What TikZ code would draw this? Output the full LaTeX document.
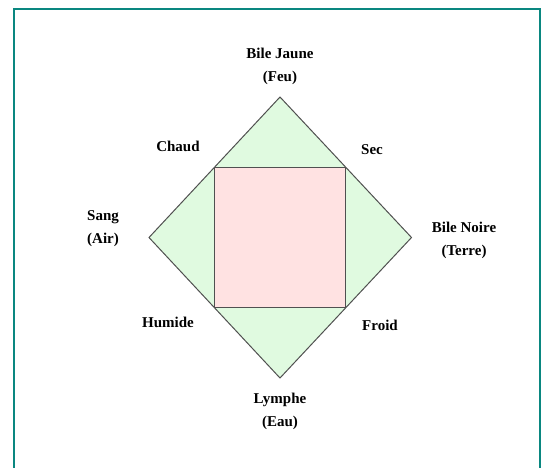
\documentclass[tikz,border=0pt]{standalone}
\usepackage{fontspec}
\setmainfont{Liberation Serif}
\usetikzlibrary{calc}
\definecolor{frameteal}{RGB}{10,135,128}
\definecolor{lgreen}{RGB}{224,250,224}
\definecolor{lpink}{RGB}{255,226,226}
\definecolor{edgegray}{RGB}{80,80,80}
\begin{document}
\begin{tikzpicture}[x=1pt,y=-1pt,
  lbl/.style={font=\fontsize{15}{23}\selectfont\bfseries, align=center, inner sep=0pt},
  shapeline/.style={draw=edgegray, line width=1pt}]
\useasboundingbox (0,0) rectangle (547,467);
\begin{scope}
\clip (0,0) rectangle (547,467);
\draw[frameteal, line width=2.6pt] (14,9) rectangle (540,490);
\end{scope}
\coordinate (T) at (280,97);
\coordinate (L) at (149,237.5);
\coordinate (R) at (411.5,237.5);
\coordinate (B) at (280,378);
\draw[shapeline, fill=lgreen] (T) -- (R) -- (B) -- (L) -- cycle;
\coordinate (A1) at ($(T)!0.5!(L)$);
\coordinate (A2) at ($(T)!0.5!(R)$);
\coordinate (A3) at ($(B)!0.5!(R)$);
\coordinate (A4) at ($(B)!0.5!(L)$);
\draw[shapeline, fill=lpink] (A1) -- (A2) -- (A3) -- (A4) -- cycle;
\node[lbl] (feu) at (280,66) {Bile Jaune\\(Feu)};
\node[lbl] (chaud) at (178,146) {Chaud};
\node[lbl] (sec) at (372,150) {Sec};
\node[lbl, align=left, anchor=west] (air) at (87,229) {Sang\\(Air)};
\node[lbl] (terre) at (464,240) {Bile Noire\\(Terre)};
\node[lbl] (humide) at (168,322) {Humide};
\node[lbl] (froid) at (380,325) {Froid};
\node[lbl] (eau) at (280,411) {Lymphe\\(Eau)};
\end{tikzpicture}
\end{document}
